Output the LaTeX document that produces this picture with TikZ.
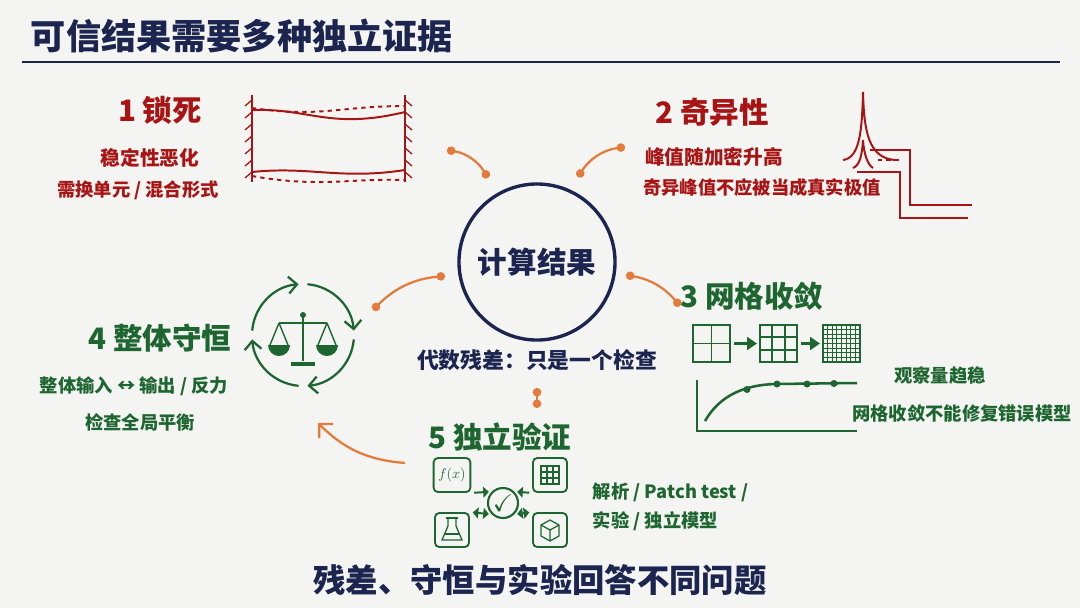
\documentclass[tikz,border=0pt]{standalone}
\usepackage{amssymb}
\usepackage{fontspec}
\setmainfont{Noto Sans CJK SC}
\usepackage{tikz}
\usetikzlibrary{arrows.meta,positioning}
\definecolor{navy}{HTML}{1B2550}
\definecolor{dred}{HTML}{A81414}
\definecolor{dgreen}{HTML}{1E6630}
\definecolor{orng}{HTML}{E57B3A}
\definecolor{bg}{HTML}{F4F4F2}
\tikzset{
  head/.style={font=\bfseries\fontsize{21}{24}\selectfont},
  note/.style={font=\bfseries\fontsize{13}{15}\selectfont},
  link/.style={orng, line width=1.6pt, {Circle[length=6pt]}-{Circle[length=6pt]}},
  ico/.style={dgreen, line width=1.3pt, rounded corners=3pt},
}
\begin{document}
\begin{tikzpicture}[x=0.025cm, y=-0.025cm]
\fill[bg] (0,0) rectangle (1080,608);
\node[navy, font=\bfseries\fontsize{25}{28}\selectfont, anchor=west] (title) at (26,36) {可信结果需要多种独立证据};
\draw[navy, line width=1.6pt] (22,62) -- (1060,62);

% center
\node[draw=navy, line width=2.4pt, circle, minimum size=3.9cm, navy, font=\bfseries\fontsize{21}{24}\selectfont] (res) at (537,262) {计算结果};
\node[navy, font=\bfseries\fontsize{15.5}{18}\selectfont] (alg) at (537,360) {代数残差：只是一个检查};

% 1 locking
\node[dred, head] (h1) at (160,110) {\textit{1} 锁死};
\node[dred, note, font=\bfseries\fontsize{14}{16}\selectfont] (t1a) at (150,158) {稳定性恶化};
\node[dred, note] (t1b) at (138,190) {需换单元 / 混合形式};
\begin{scope}[dred, line width=1.4pt]
  \draw (252,95) -- (252,182);
  \draw (405,95) -- (405,182);
  \foreach \y in {100,112,...,180} {
    \draw[line width=0.9pt] (252,\y) -- (245,\y+6);
    \draw[line width=0.9pt] (405,\y) -- (412,\y+6);
  }
  \draw (252,110) .. controls (310,108) and (330,130) .. (405,112);
  \draw[dashed] (252,108) .. controls (320,118) and (340,106) .. (405,106);
  \draw (252,172) .. controls (310,166) and (340,180) .. (405,170);
  \draw[dashed] (252,176) .. controls (320,188) and (350,178) .. (405,180);
\end{scope}

% 2 singularity
\node[dred, head] (h2) at (712,112) {2 奇异性};
\node[dred, note, font=\bfseries\fontsize{14}{16}\selectfont] (t2a) at (714,157) {峰值随加密升高};
\node[dred, note] (t2b) at (762,188) {奇异峰值不应被当成真实极值};
\begin{scope}[dred, line width=1.4pt]
  \draw (843,160) .. controls (860,158) and (862,130) .. (863,92) .. controls (864,130) and (868,158) .. (895,160);
  \draw (853,168) .. controls (860,165) and (862,155) .. (863,140) .. controls (864,155) and (868,165) .. (873,168);
  \draw (870,150) -- (910,150) -- (910,205) -- (972,205);
  \draw (857,172) -- (900,172) -- (900,218) -- (968,218);
  \draw[dashed] (878,160) -- (903,160);
\end{scope}

% 3 mesh convergence
\node[dgreen, head] (h3) at (752,296) {3 网格收敛};
\begin{scope}[dgreen, line width=1.3pt]
  \draw (693,325) rectangle (730,362);
  \draw (693,343.5) -- (730,343.5) (711.5,325) -- (711.5,362);
  \draw (760,325) rectangle (797,362);
  \foreach \k in {1,2} {
    \draw (760,325+\k*12.33) -- (797,325+\k*12.33);
    \draw (760+\k*12.33,325) -- (760+\k*12.33,362);
  }
  \draw (823,325) rectangle (860,362);
  \foreach \k in {1,...,7} {
    \draw[line width=0.6pt] (823,325+\k*4.62) -- (860,325+\k*4.62);
    \draw[line width=0.6pt] (823+\k*4.62,325) -- (823+\k*4.62,362);
  }
  \draw[line width=2pt, -{Triangle[length=7pt,width=9pt]}] (734,343.5) -- (757,343.5);
  \draw[line width=2pt, -{Triangle[length=7pt,width=9pt]}] (801,343.5) -- (820,343.5);
  \draw (697,380) -- (697,431) -- (857,431);
  \draw[line width=1.8pt] (705,421) .. controls (720,395) and (745,385) .. (775,384) -- (857,383);
  \foreach \x/\y in {747/389.5, 777/384, 807/384, 834/383.5} {
    \fill (\x,\y) circle (3.5);
  }
\end{scope}
\node[dgreen, note] (t3a) at (940,376) {观察量趋稳};
\node[dgreen, note] (t3b) at (962,414) {网格收敛不能修复错误模型};

% 4 conservation
\node[dgreen, head] (h4) at (160,338) {4 整体守恒};
\node[dgreen, note] (t4a) at (134,386) {整体输入 ↔ 输出 / 反力};
\node[dgreen, note] (t4b) at (140,422) {检查全局平衡};
\begin{scope}[dgreen, line width=1.6pt, shift={(303,335)}]
  \foreach \a in {0,90,180,270} {
    \draw[-{Straight Barb[length=6pt]}] (\a+95:51) arc[start angle=\a+95, end angle=\a+175, radius=51];
  }
  \draw (0,-18) -- (0,26);
  \fill (0,-20) circle (3);
  \draw (-24,-12) -- (24,-12);
  \fill (-12,27) rectangle (12,31);
  \draw[line width=1pt] (-24,-12) -- (-33,10) (-24,-12) -- (-15,10);
  \draw[line width=1pt] (24,-12) -- (15,10) (24,-12) -- (33,10);
  \fill (-35,10) -- (-13,10) arc[start angle=0, end angle=180, radius=11] -- cycle;
  \fill (13,10) -- (35,10) arc[start angle=0, end angle=180, radius=11] -- cycle;
\end{scope}

% 5 independent verification
\node[dgreen, head] (h5) at (500,437) {5 独立验证};
\node[draw=dgreen, line width=1.5pt, circle, minimum size=0.75cm, inner sep=0pt, dgreen] (chk) at (503,503) {\LARGE$\checkmark$};
\node[draw=dgreen, ico, minimum size=0.85cm, font=\normalsize] (fx) at (452,475) {$f(x)$};
\node[draw=dgreen, ico, minimum size=0.85cm] (grd) at (550,475) {};
\node[draw=dgreen, ico, minimum size=0.85cm] (fl) at (452,530) {};
\node[draw=dgreen, ico, minimum size=0.85cm] (cb) at (550,530) {};
\begin{scope}[dgreen, line width=0.9pt]
  \draw (541,466) rectangle (559,484);
  \foreach \k in {1,2} {
    \draw (541,466+\k*6) -- (559,466+\k*6);
    \draw (541+\k*6,466) -- (541+\k*6,484);
  }
  \draw (448,518) -- (448,526) -- (442,540) -- (462,540) -- (456,526) -- (456,518);
  \draw (446,518) -- (458,518) (445,534) -- (459,534);
  \draw (541,525) -- (550,520) -- (559,525) -- (559,536) -- (550,541) -- (541,536) -- cycle;
  \draw (541,525) -- (550,530) -- (559,525) (550,530) -- (550,541);
\end{scope}
\begin{scope}[dgreen, line width=1.4pt, -{Triangle[length=4pt]}, shorten >=2pt, shorten <=2pt]
  \draw (fx.south east) -- (chk.north west);
  \draw (grd.south west) -- (chk.north east);
  \draw[{Triangle[length=4pt]}-{Triangle[length=4pt]}] (fl.north east) -- (chk.south west);
  \draw[{Triangle[length=4pt]}-{Triangle[length=4pt]}] (cb.north west) -- (chk.south east);
\end{scope}
\node[dgreen, note, anchor=west] (t5a) at (588,492) {解析 / Patch test /};
\node[dgreen, note, anchor=west] (t5b) at (588,521) {实验 / 独立模型};

% connectors
\coordinate (p1) at (447,150);  \coordinate (q1) at (488,178);
\coordinate (p2) at (625,147);  \coordinate (q2) at (578,177);
\coordinate (p3) at (626,275);  \coordinate (q3) at (680,306);
\coordinate (p4) at (445,276);  \coordinate (q4) at (373,310);
\coordinate (p5) at (537,388);  \coordinate (q5) at (537,408);
\coordinate (p6) at (405,463);  \coordinate (q6) at (318,423);
\draw[link] (p1) to[bend left=25] (q1);
\draw[link] (p2) to[bend right=25] (q2);
\draw[link] (p3) to[bend left=20] (q3);
\draw[link] (p4) to[bend right=20] (q4);
\draw[link] (p5) -- (q5);
\draw[orng, line width=1.6pt, -{Straight Barb[length=7pt]}] (p6) to[bend left=20] (q6);

\node[navy, font=\bfseries\fontsize{23}{27}\selectfont] (bot) at (540,580) {残差、守恒与实验回答不同问题};
\end{tikzpicture}
\end{document}
